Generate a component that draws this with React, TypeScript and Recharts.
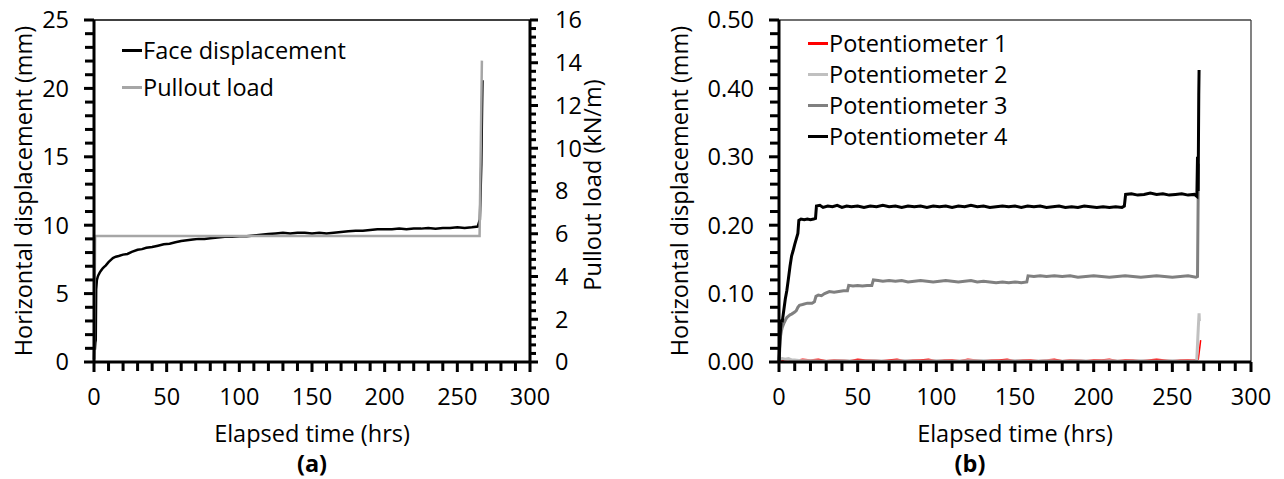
import { LineChart, Line, XAxis, YAxis, Label, Legend, ReferenceLine } from 'recharts';

const FONT = '"Open Sans", Lato, sans-serif';
const FS = 23.5;

// shared time axis
const timeTicks = [0, 50, 100, 150, 200, 250, 300];
const timeMinorTicks = [0, 10, 20, 30, 40, 50, 60, 70, 80, 90, 100, 110, 120, 130, 140, 150, 160, 170, 180, 190, 200, 210, 220, 230, 240, 250, 260, 270, 280, 290, 300];

// (a) axes
const dispTicksA = [0, 5, 10, 15, 20, 25];
const dispMinorA = [0, 1, 2, 3, 4, 5, 6, 7, 8, 9, 10, 11, 12, 13, 14, 15, 16, 17, 18, 19, 20, 21, 22, 23, 24, 25];
const loadTicks = [0, 2, 4, 6, 8, 10, 12, 14, 16];
const loadMinor = [0, 0.4, 0.8, 1.2, 1.6, 2, 2.4, 2.8, 3.2, 3.6, 4, 4.4, 4.8, 5.2, 5.6, 6, 6.4, 6.8, 7.2, 7.6, 8, 8.4, 8.8, 9.2, 9.6, 10, 10.4, 10.8, 11.2, 11.6, 12, 12.4, 12.8, 13.2, 13.6, 14, 14.4, 14.8, 15.2, 15.6, 16];

// (b) axes
const dispTicksB = [0, 0.1, 0.2, 0.3, 0.4, 0.5];
const dispMinorB = [0, 0.02, 0.04, 0.06, 0.08, 0.1, 0.12, 0.14, 0.16, 0.18, 0.2, 0.22, 0.24, 0.26, 0.28, 0.3, 0.32, 0.34, 0.36, 0.38, 0.4, 0.42, 0.44, 0.46, 0.48, 0.5];

// (a) series: [time hrs, value]
const faceDisplacement: [number, number][] = [
  [0, 0.2], [0.3, 1.5], [0.6, 0.9], [0.9, 1.4], [1.2, 1.6], [1.5, 5.3], [2, 6.0], [2.5, 6.2], [3, 6.35], [4, 6.55],
  [5, 6.7], [6, 6.85], [7, 6.95], [8, 7.05], [10, 7.3], [12, 7.5], [13, 7.6], [15, 7.7], [17, 7.75], [20, 7.85],
  [23, 7.9], [26, 8.05], [30, 8.2], [33, 8.25], [36, 8.35], [40, 8.4], [44, 8.5], [48, 8.6], [52, 8.65], [56, 8.75],
  [60, 8.85], [64, 8.9], [68, 8.95], [72, 9.0], [76, 9.0], [80, 9.05], [85, 9.1], [90, 9.15], [95, 9.15], [100, 9.2],
  [105, 9.2], [110, 9.25], [115, 9.3], [120, 9.35], [125, 9.4], [130, 9.45], [135, 9.4], [140, 9.45], [145, 9.45], [150, 9.4],
  [155, 9.45], [160, 9.4], [165, 9.45], [170, 9.5], [175, 9.55], [180, 9.6], [185, 9.6], [190, 9.65], [195, 9.7], [200, 9.7],
  [205, 9.7], [210, 9.75], [215, 9.7], [220, 9.75], [225, 9.75], [230, 9.8], [235, 9.75], [240, 9.8], [245, 9.8], [250, 9.85],
  [255, 9.8], [260, 9.85], [264, 9.9], [265.5, 10.4], [266.5, 14.5], [267, 18.5], [267.3, 20.6],
];
const pulloutLoad: [number, number][] = [[0, 0], [0.8, 5.9], [265.3, 5.9], [266.9, 14.1]];

// (b) series: [time hrs, displacement mm]
const pot1: [number, number][] = [
  [0, 0], [3, 0.003], [6, 0.004], [10, 0.002], [15, 0.004], [20, 0.003], [25, 0.004], [30, 0.002], [35, 0.003], [40, 0.003],
  [45, 0.002], [50, 0.004], [55, 0.003], [60, 0.003], [65, 0.002], [70, 0.003], [75, 0.004], [80, 0.002], [85, 0.003], [90, 0.003],
  [95, 0.004], [100, 0.002], [105, 0.003], [110, 0.003], [115, 0.002], [120, 0.004], [125, 0.003], [130, 0.002], [135, 0.003], [140, 0.003],
  [145, 0.004], [150, 0.002], [155, 0.003], [160, 0.003], [165, 0.002], [170, 0.003], [175, 0.004], [180, 0.002], [185, 0.003], [190, 0.003],
  [195, 0.002], [200, 0.003], [205, 0.003], [210, 0.004], [215, 0.002], [220, 0.003], [225, 0.003], [230, 0.002], [235, 0.003], [240, 0.004],
  [245, 0.003], [250, 0.002], [255, 0.003], [260, 0.003], [265, 0.003], [266.5, 0.004], [267.5, 0.022], [268, 0.032],
];
const pot2: [number, number][] = [
  [0, 0], [0.5, 0.004], [2, 0.005], [4, 0.004], [6, 0.005], [8, 0.003], [10, 0.003], [14, 0.002], [20, 0.002], [30, 0.001],
  [40, 0.002], [50, 0.001], [60, 0.002], [70, 0.001], [80, 0.002], [90, 0.001], [100, 0.002], [110, 0.001], [120, 0.002], [130, 0.002],
  [140, 0.001], [150, 0.002], [160, 0.001], [170, 0.002], [180, 0.001], [190, 0.002], [200, 0.001], [210, 0.002], [220, 0.001], [230, 0.002],
  [240, 0.001], [250, 0.002], [260, 0.001], [265.5, 0.002], [266.5, 0.05], [267, 0.071], [267.2, 0.06],
];
const pot3: [number, number][] = [
  [0, 0], [0.5, 0.02], [1, 0.038], [1.5, 0.045], [2, 0.05], [3, 0.056], [4, 0.061], [5, 0.065], [6, 0.067], [7, 0.069],
  [8, 0.07], [10, 0.073], [11, 0.075], [12, 0.08], [13, 0.083], [15, 0.084], [18, 0.086], [21, 0.086], [22.5, 0.088], [23.5, 0.096],
  [25, 0.098], [27, 0.097], [29, 0.1], [32, 0.103], [35, 0.102], [38, 0.103], [41, 0.104], [43.5, 0.104], [44.3, 0.112], [47, 0.111],
  [50, 0.112], [53, 0.111], [56, 0.112], [59, 0.112], [60, 0.12], [63, 0.119], [66, 0.118], [70, 0.119], [74, 0.118], [78, 0.119],
  [82, 0.117], [86, 0.118], [90, 0.119], [94, 0.118], [98, 0.117], [102, 0.118], [106, 0.119], [110, 0.118], [114, 0.117], [118, 0.118],
  [122, 0.119], [126, 0.117], [130, 0.118], [134, 0.117], [138, 0.116], [142, 0.117], [146, 0.116], [150, 0.117], [154, 0.116], [157.5, 0.117],
  [158.3, 0.126], [162, 0.125], [166, 0.126], [170, 0.125], [175, 0.126], [180, 0.125], [185, 0.126], [190, 0.124], [195, 0.125], [200, 0.126],
  [205, 0.125], [210, 0.124], [215, 0.125], [220, 0.126], [225, 0.125], [230, 0.124], [235, 0.125], [240, 0.126], [245, 0.125], [250, 0.124],
  [255, 0.125], [260, 0.126], [265, 0.124], [266, 0.125], [266.6, 0.29],
];
const pot4: [number, number][] = [
  [0, 0], [0.5, 0.03], [1, 0.05], [1.5, 0.062], [2, 0.058], [3, 0.075], [4, 0.092], [5, 0.105], [6, 0.122], [7, 0.14],
  [8, 0.155], [9, 0.163], [10, 0.172], [11, 0.18], [12, 0.188], [12.6, 0.207], [14, 0.209], [16, 0.208], [18, 0.209], [20, 0.208],
  [22, 0.209], [23.2, 0.21], [23.8, 0.228], [26, 0.229], [28, 0.226], [31, 0.228], [34, 0.227], [37, 0.229], [40, 0.226], [43, 0.228],
  [46, 0.227], [50, 0.228], [54, 0.226], [58, 0.228], [62, 0.227], [66, 0.229], [70, 0.227], [74, 0.228], [78, 0.226], [82, 0.228],
  [86, 0.227], [90, 0.228], [94, 0.226], [98, 0.228], [102, 0.227], [106, 0.228], [110, 0.226], [114, 0.228], [118, 0.227], [122, 0.229],
  [126, 0.227], [130, 0.228], [134, 0.226], [138, 0.227], [142, 0.228], [146, 0.227], [150, 0.228], [154, 0.226], [158, 0.228], [162, 0.227],
  [166, 0.228], [170, 0.226], [174, 0.227], [178, 0.228], [182, 0.226], [186, 0.227], [190, 0.226], [194, 0.228], [198, 0.227], [202, 0.226],
  [206, 0.227], [210, 0.226], [214, 0.227], [218, 0.226], [219.5, 0.228], [220.3, 0.245], [224, 0.246], [228, 0.244], [232, 0.245], [236, 0.247],
  [240, 0.245], [244, 0.246], [248, 0.244], [252, 0.245], [256, 0.246], [260, 0.244], [264, 0.245], [265.6, 0.242], [266, 0.3], [266.4, 0.25],
  [266.8, 0.39], [267, 0.427],
];

const rows = (pts: [number, number][]) => pts.map(([t, v]) => ({ t, v }));

const TEXT = { fontFamily: FONT, fontSize: FS, fill: '#000' };
const INK = '#000000';
const TICK_W = 3;

// tick mark (a thin rect) + label for major values; x/y is the axis-line position since tickSize is 0
function makeTick(side: 'bottom' | 'left' | 'right', major: number[], fmt: (v: number) => string) {
  return (props: any) => {
    const x = Number(props.x);
    const y = Number(props.y);
    const value = props.payload.value;
    const isMajor = major.includes(value);
    if (side === 'bottom') {
      const len = isMajor ? 10 : 9;
      return (
        <g>
          <rect x={x - TICK_W / 2} y={y} width={TICK_W} height={len} fill={INK} stroke="none" style={{ fill: INK }} />
          {isMajor && <text x={x} y={y + 26} dy="0.71em" textAnchor="middle" {...TEXT}>{fmt(value)}</text>}
        </g>
      );
    }
    const dir = side === 'left' ? -1 : 1;
    const len = side === 'left' ? (isMajor ? 10 : 9) : isMajor ? 8 : 6;
    return (
      <g>
        <rect x={dir < 0 ? x - len : x} y={y - TICK_W / 2} width={len} height={TICK_W} fill={INK} stroke="none" style={{ fill: INK }} />
        {isMajor && (
          <text x={x + dir * 25} y={y} dy="0.355em" textAnchor={side === 'left' ? 'end' : 'start'} {...TEXT}>
            {fmt(value)}
          </text>
        )}
      </g>
    );
  };
}

function vTitle(text: string, inset: number, shift = 0) {
  return (props: any) => {
    const vb = props.viewBox;
    const cx = vb.x + inset;
    const cy = vb.y + vb.height / 2 + shift;
    return (
      <text x={cx} y={cy} transform={`rotate(-90, ${cx}, ${cy})`} textAnchor="middle" dominantBaseline="central" {...TEXT}>
        {text}
      </text>
    );
  };
}

function hTitle(text: string, baseline: number, dx = 0, bold = false) {
  return (props: any) => {
    const vb = props.viewBox;
    return (
      <text x={vb.x + vb.width / 2 + dx} y={vb.y + baseline} textAnchor="middle" fontWeight={bold ? 'bold' : 'normal'} {...TEXT}>
        {text}
      </text>
    );
  };
}

function legendContent(rowHeight: number) {
  return (props: any) => (
    <div style={{ fontFamily: FONT, fontSize: FS, color: '#000' }}>
      {(props.payload || []).map((p: any) => (
        <div key={p.value} style={{ display: 'flex', alignItems: 'center', height: rowHeight, whiteSpace: 'nowrap' }}>
          <span style={{ display: 'inline-block', width: 20, height: 3, background: p.color, marginRight: 1 }} />
          <span>{p.value}</span>
        </div>
      ))}
    </div>
  );
}

const axisLine = { stroke: '#000', strokeWidth: 3 };
const lineProps = { type: 'linear' as const, dot: false, isAnimationActive: false, dataKey: 'v' };
const tickCfg = { tickLine: { stroke: INK, strokeWidth: 3 }, tickSize: 0, tickMargin: 0, interval: 0 as const };

function ChartA() {
  return (
    <LineChart width={640} height={479} margin={{ top: 20, right: 0, bottom: 0, left: 0 }}>
      <XAxis
        dataKey="t" type="number" domain={[0, 300]} ticks={timeMinorTicks} {...tickCfg}
        tick={makeTick('bottom', timeTicks, (v) => String(v))} height={117} axisLine={axisLine}
      >
        <Label content={hTitle('Elapsed time (hrs)', 80)} />
        <Label content={hTitle('(a)', 110, 0, true)} />
      </XAxis>
      <YAxis
        yAxisId="left" type="number" domain={[0, 25]} ticks={dispMinorA} {...tickCfg}
        tick={makeTick('left', dispTicksA, (v) => String(v))} width={94} axisLine={axisLine}
      >
        <Label content={vTitle('Horizontal displacement (mm)', 22.5)} />
      </YAxis>
      <YAxis
        yAxisId="right" orientation="right" type="number" domain={[0, 16]} ticks={loadMinor} {...tickCfg}
        tick={makeTick('right', loadTicks, (v) => String(v))} width={110} axisLine={axisLine}
      >
        <Label content={vTitle('Pullout load (kN/m)', 62, -6)} />
      </YAxis>
      <ReferenceLine yAxisId="left" y={25} stroke="#000" strokeWidth={1.3} />
      <Line {...lineProps} yAxisId="left" data={rows(faceDisplacement)} name="Face displacement" stroke="#000" strokeWidth={2.5} />
      <Line {...lineProps} yAxisId="right" data={rows(pulloutLoad)} name="Pullout load" stroke="#a6a6a6" strokeWidth={2.5} />
      <Legend
        layout="vertical" align="center" verticalAlign="middle"
        wrapperStyle={{ left: 122, top: 31.5, width: 'auto' }}
        content={legendContent(37)}
      />
    </LineChart>
  );
}

function ChartB() {
  return (
    <LineChart width={644} height={479} margin={{ top: 20, right: 33, bottom: 0, left: 0 }}>
      <XAxis
        dataKey="t" type="number" domain={[0, 300]} ticks={timeMinorTicks} {...tickCfg}
        tick={makeTick('bottom', timeTicks, (v) => String(v))} height={117} axisLine={axisLine}
      >
        <Label content={hTitle('Elapsed time (hrs)', 80)} />
        <Label content={hTitle('(b)', 110, -45, true)} />
      </XAxis>
      <YAxis
        type="number" domain={[0, 0.5]} ticks={dispMinorB} {...tickCfg}
        tick={makeTick('left', dispTicksB, (v) => v.toFixed(2))} width={139} axisLine={axisLine}
      >
        <Label content={vTitle('Horizontal displacement (mm)', 39)} />
      </YAxis>
      <ReferenceLine y={0.5} stroke="#404040" strokeWidth={1.3} />
      <ReferenceLine x={300} stroke="#404040" strokeWidth={1.3} />
      <Line {...lineProps} data={rows(pot1)} name="Potentiometer 1" stroke="#ff0000" strokeWidth={1.5} />
      <Line {...lineProps} data={rows(pot2)} name="Potentiometer 2" stroke="#c0c0c0" strokeWidth={3} />
      <Line {...lineProps} data={rows(pot3)} name="Potentiometer 3" stroke="#808080" strokeWidth={3} />
      <Line {...lineProps} data={rows(pot4)} name="Potentiometer 4" stroke="#000" strokeWidth={3} />
      <Legend
        layout="vertical" align="center" verticalAlign="middle"
        wrapperStyle={{ left: 168, top: 27.5, width: 'auto' }}
        content={legendContent(31)}
      />
    </LineChart>
  );
}

export default function App() {
  return (
    <div style={{ position: 'absolute', left: 0, top: 0, width: 1284, height: 479, background: '#fff', display: 'flex', fontFamily: FONT }}>
      <ChartA />
      <ChartB />
    </div>
  );
}
